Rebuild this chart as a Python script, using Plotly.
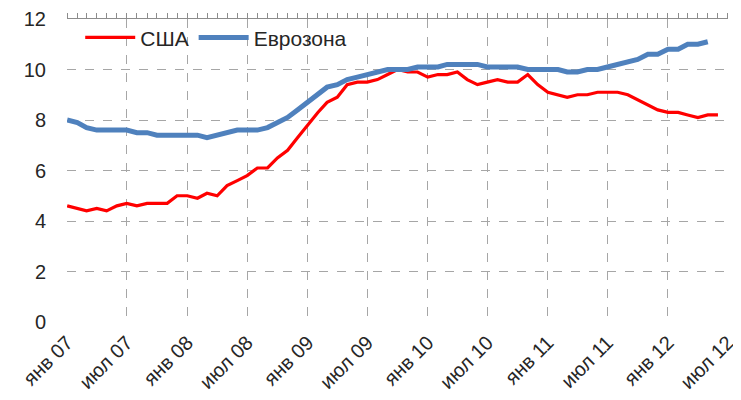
import pandas as pd
import plotly.graph_objects as go

months_usa = pd.date_range("2007-01-01", periods=66, freq="MS")
months_ez = pd.date_range("2007-01-01", periods=65, freq="MS")

usa = [4.6, 4.5, 4.4, 4.5, 4.4, 4.6, 4.7, 4.6, 4.7, 4.7, 4.7, 5.0,
       5.0, 4.9, 5.1, 5.0, 5.4, 5.6, 5.8, 6.1, 6.1, 6.5, 6.8, 7.3,
       7.8, 8.3, 8.7, 8.9, 9.4, 9.5, 9.5, 9.6, 9.8, 10.0, 9.9, 9.9,
       9.7, 9.8, 9.8, 9.9, 9.6, 9.4, 9.5, 9.6, 9.5, 9.5, 9.8, 9.4,
       9.1, 9.0, 8.9, 9.0, 9.0, 9.1, 9.1, 9.1, 9.0, 8.8, 8.6, 8.4,
       8.3, 8.3, 8.2, 8.1, 8.2, 8.2]

eurozone = [8.0, 7.9, 7.7, 7.6, 7.6, 7.6, 7.6, 7.5, 7.5, 7.4, 7.4, 7.4,
            7.4, 7.4, 7.3, 7.4, 7.5, 7.6, 7.6, 7.6, 7.7, 7.9, 8.1, 8.4,
            8.7, 9.0, 9.3, 9.4, 9.6, 9.7, 9.8, 9.9, 10.0, 10.0, 10.0, 10.1,
            10.1, 10.1, 10.2, 10.2, 10.2, 10.2, 10.1, 10.1, 10.1, 10.1, 10.0, 10.0,
            10.0, 10.0, 9.9, 9.9, 10.0, 10.0, 10.1, 10.2, 10.3, 10.4, 10.6, 10.6,
            10.8, 10.8, 11.0, 11.0, 11.1]

tick_vals = pd.date_range("2007-01-01", "2012-07-01", freq="6MS")
tick_text = ["янв 07", "июл 07", "янв 08", "июл 08", "янв 09", "июл 09",
             "янв 10", "июл 10", "янв 11", "июл 11", "янв 12", "июл 12"]

FONT = "Liberation Sans, Arial, sans-serif"
GRID = "#A6A6A6"

fig = go.Figure()
fig.add_trace(go.Scatter(x=months_usa, y=usa, mode="lines", name="США",
                         line=dict(color="#FF0000", width=3.2)))
fig.add_trace(go.Scatter(x=months_ez, y=eurozone, mode="lines", name="Еврозона",
                         line=dict(color="#4F81BD", width=5)))
# helper trace so the top axis line (with monthly ticks) is drawn
fig.add_trace(go.Scatter(x=[months_usa[0], months_usa[-1]], y=[None, None], xaxis="x2",
                         showlegend=False, hoverinfo="skip"))

x_range = ["2006-12-31 12:00", "2012-07-01 12:00"]

fig.update_layout(
    width=733, height=392,
    margin=dict(l=59, r=13, t=10, b=78),
    paper_bgcolor="white", plot_bgcolor="white",
    font=dict(family=FONT, size=20, color="#333333"),
    showlegend=True,
    legend=dict(orientation="h", x=0.02, y=0.935, xanchor="left", yanchor="middle",
                bgcolor="rgba(255,255,255,0)", font=dict(size=21, color="#262626"),
                itemwidth=50, tracegroupgap=0),
    xaxis=dict(type="date", range=x_range, tickvals=tick_vals, ticktext=tick_text,
               tickangle=-45, showgrid=True, gridcolor=GRID, griddash="dash", gridwidth=1,
               showline=False, ticks="", zeroline=False, automargin=False,
               tickfont=dict(size=20, color="#262626"), ticklabelstandoff=4),
    xaxis2=dict(type="date", range=x_range, overlaying="x", side="top", matches="x",
                showline=True, linecolor="#8C8C8C", linewidth=1.2, automargin=False,
                ticks="outside", ticklen=5, tickcolor="#8C8C8C", tickwidth=1,
                dtick="M1", tick0="2007-01-01", showticklabels=False, showgrid=False),
    yaxis=dict(range=[0, 12], dtick=2, showgrid=True, gridcolor=GRID, griddash="dash",
               gridwidth=1, zeroline=False, showline=False, ticks="", automargin=False,
               tickfont=dict(size=20, color="#262626"), ticklabelstandoff=20),
)

fig.write_html("out.html")
